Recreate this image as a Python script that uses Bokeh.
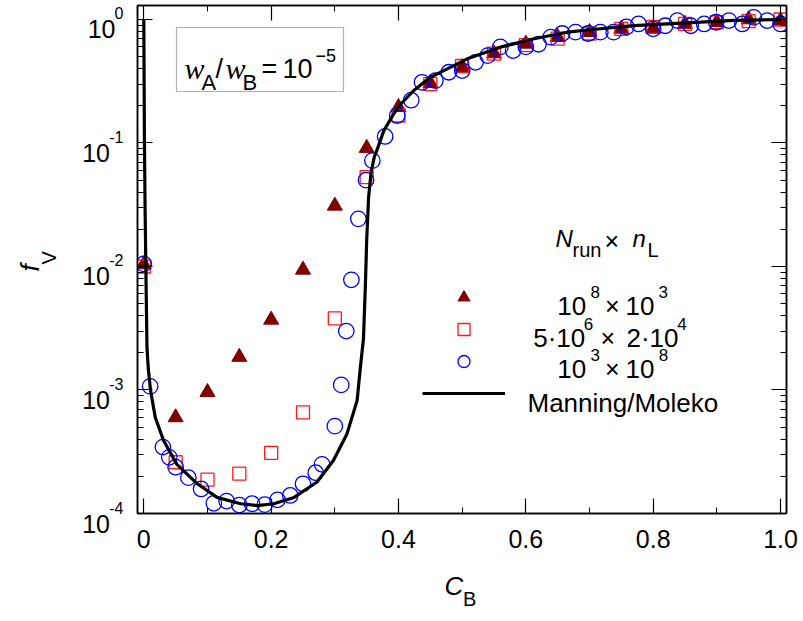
import math
from bokeh.plotting import figure
from bokeh.layouts import row, column
from bokeh.models import (LinearAxis, LogAxis, FixedTicker, Label, BoxAnnotation,
                          Legend, LegendItem, Range1d, CustomJSTickFormatter)
from bokeh.core.properties import value
from bokeh.embed import file_html
from bokeh.resources import INLINE

# ---------------- data ----------------
cb_tri = [0.0, 0.05, 0.10, 0.15, 0.20, 0.25, 0.30, 0.35, 0.40, 0.45, 0.50,
          0.55, 0.60, 0.65, 0.70, 0.75, 0.80, 0.85, 0.90, 0.95, 1.00]
fv_tri = [0.0104, 6.0e-4, 9.6e-4, 1.85e-3, 3.7e-3, 9.4e-3, 0.031, 0.091, 0.195, 0.305, 0.41,
          0.53, 0.635, 0.72, 0.79, 0.84, 0.84, 0.92, 0.95, 1.0, 0.98]

cb_sq = [0.0, 0.05, 0.10, 0.15, 0.20, 0.25, 0.30, 0.35, 0.40, 0.45, 0.50,
         0.55, 0.60, 0.65, 0.70, 0.75, 0.80, 0.85, 0.90, 0.95, 1.00]
fv_sq = [0.0100, 2.6e-4, 1.88e-4, 2.1e-4, 3.1e-4, 6.6e-4, 3.8e-3, 0.053, 0.167, 0.30, 0.42,
         0.53, 0.62, 0.70, 0.77, 0.84, 0.87, 0.92, 0.95, 0.97, 1.0]

cb_circ = [0.0, 0.01, 0.03, 0.04, 0.05, 0.07, 0.09, 0.11, 0.13, 0.15, 0.17, 0.19,
           0.21, 0.23, 0.25, 0.27, 0.28, 0.30, 0.31, 0.318, 0.326, 0.337, 0.349,
           0.359, 0.379, 0.398, 0.42, 0.437, 0.458, 0.479, 0.50, 0.521, 0.54,
           0.56, 0.58, 0.60, 0.62, 0.639, 0.657, 0.678, 0.698, 0.717, 0.738,
           0.758, 0.777, 0.80, 0.819, 0.838, 0.859, 0.88, 0.899, 0.919, 0.94,
           0.958, 0.979, 1.0]
fv_circ = [0.0105, 1.07e-3, 3.45e-4, 2.85e-4, 2.37e-4, 1.95e-4, 1.58e-4, 1.21e-4,
           1.26e-4, 1.17e-4, 1.2e-4, 1.18e-4, 1.29e-4, 1.4e-4, 1.74e-4, 2.14e-4,
           2.5e-4, 5.1e-4, 1.1e-3, 3.0e-3, 7.8e-3, 0.0243, 0.050, 0.072, 0.113,
           0.167, 0.222, 0.31, 0.32, 0.374, 0.386, 0.45, 0.51, 0.60, 0.56, 0.60,
           0.63, 0.72, 0.77, 0.79, 0.77, 0.79, 0.79, 0.87, 0.92, 0.84, 0.89, 0.98,
           0.89, 0.92, 0.95, 0.98, 0.92, 1.04, 0.98, 0.92]

cb_theory = [0.0, 0.001, 0.002, 0.003, 0.004, 0.005, 0.007, 0.0105, 0.018, 0.031,
             0.052, 0.084, 0.115, 0.152, 0.178, 0.204, 0.236, 0.272, 0.298, 0.319,
             0.335, 0.340, 0.345, 0.348, 0.350, 0.353, 0.357, 0.362, 0.367, 0.377,
             0.393, 0.403, 0.424, 0.45, 0.508, 0.56, 0.613, 0.665, 0.717, 0.77,
             0.822, 0.874, 0.927, 1.0]
fv_theory = [1.0, 0.1, 0.03, 0.012, 0.005, 0.0022, 0.0015, 1.0e-3, 6.0e-4, 3.9e-4,
             2.5e-4, 1.74e-4, 1.35e-4, 1.2e-4, 1.16e-4, 1.2e-4, 1.35e-4, 1.8e-4,
             2.7e-4, 4.4e-4, 8.2e-4, 1.5e-3, 2.6e-3, 7e-3, 0.016, 0.036, 0.058,
             0.077, 0.09, 0.126, 0.174, 0.205, 0.266, 0.34, 0.48, 0.597, 0.698,
             0.789, 0.841, 0.893, 0.923, 0.951, 0.982, 1.0]

x_ticks = [0.0, 0.2, 0.4, 0.6, 0.8, 1.0]
x_tick_labels = ["0", "0.2", "0.4", "0.6", "0.8", "1.0"]
x_minor = [0.1, 0.3, 0.5, 0.7, 0.9]
y_exps = [-4, -3, -2, -1, 0]
y_exp_labels = ["-4", "-3", "-2", "-1", "0"]

series_names = [("10", "8", "10", "3"), ("5·10", "6", "2·10", "4"), ("10", "3", "10", "8")]
theory_name = "Manning/Moleko"

# ---------------- geometry ----------------
W, H = 803, 621
FL, FT, FR, FB = 137, 5, 786, 513       # frame edges on the page
LEFT_W = 135                            # width of the left label strip
BOT_H = 61                              # height of the bottom title strip
FONT = "Liberation Sans"

p = figure(width=W - LEFT_W, height=H - BOT_H, y_axis_type="log",
           x_range=Range1d(-0.0099, 1.0094), y_range=Range1d(1e-4, 1.298),
           output_backend="svg", toolbar_location=None,
           min_border_left=FL - LEFT_W, min_border_right=W - FR,
           min_border_top=FT, min_border_bottom=H - BOT_H - FB)
p.grid.visible = False
p.outline_line_color = "black"
p.outline_line_width = 1.5
p.background_fill_color = "white"
p.border_fill_color = "white"

y_ticks = [10.0 ** e for e in y_exps]
y_minor = [m * 10.0 ** e for e in y_exps[:-1] for m in range(2, 10)]
xt = FixedTicker(ticks=x_ticks, minor_ticks=x_minor)
yt = FixedTicker(ticks=y_ticks, minor_ticks=y_minor)
blank = CustomJSTickFormatter(code="return ''")


def style_axis(ax, labels=False):
    ax.axis_line_color = "black"
    ax.axis_line_width = 1.5
    ax.major_tick_in = 15
    ax.major_tick_out = 0
    ax.minor_tick_in = 6
    ax.minor_tick_out = 0
    ax.major_tick_line_color = "black"
    ax.major_tick_line_width = 1.2
    ax.minor_tick_line_color = "black"
    ax.minor_tick_line_width = 1.0
    if not labels:
        ax.formatter = blank
        ax.major_label_text_font_size = "0px"
        ax.major_label_standoff = 0


xa = p.xaxis[0]
xa.ticker = xt
style_axis(xa, labels=True)
xa.major_label_overrides = {t: s for t, s in zip(x_ticks, x_tick_labels)}
xa.major_label_text_font = FONT
xa.major_label_text_font_size = "25px"
xa.major_label_text_color = "black"
xa.major_label_standoff = 16

ya = p.yaxis[0]
ya.ticker = yt
style_axis(ya)

top = LinearAxis(ticker=xt)
style_axis(top)
p.add_layout(top, "above")
right = LogAxis(ticker=yt)
style_axis(right)
p.add_layout(right, "right")

# ---------------- data glyphs ----------------
r_tri = p.scatter(cb_tri, fv_tri, marker="triangle", size=15,
                  fill_color="#800000", line_color="#800000")
r_sq = p.scatter(cb_sq, fv_sq, marker="square", size=13, fill_color=None,
                 line_color="#ff1a1a", line_width=1.3)
r_c = p.scatter(cb_circ, fv_circ, marker="circle", size=15.5, fill_color=None,
                line_color="#0000ff", line_width=1.3)
r_l = p.line(cb_theory, fv_theory, line_color="black", line_width=3.2)

legend = Legend(items=[LegendItem(label=" ", renderers=[r_tri]),
                       LegendItem(label=" ", renderers=[r_sq]),
                       LegendItem(label=" ", renderers=[r_c]),
                       LegendItem(label=" ", renderers=[r_l])],
                location=(422 - FL, FB - 408))
legend.glyph_width = 83
legend.glyph_height = 30
legend.label_height = 30
legend.label_width = 0
legend.label_standoff = 0
legend.spacing = 2
legend.padding = 0
legend.margin = 0
legend.border_line_alpha = 0
legend.background_fill_alpha = 0
legend.label_text_font_size = "1px"
p.add_layout(legend)


# ---------------- texts inside the frame ----------------
def T(px, py, text, size, italic=False, align="left", baseline="alphabetic",
      font=FONT):
    p.add_layout(Label(x=px - FL, y=FB - py, x_units="screen", y_units="screen",
                       text=text, text_font=font, text_font_size=f"{size}px",
                       text_font_style="italic" if italic else "normal",
                       text_align=align, text_baseline=baseline,
                       text_color="black"))


p.add_layout(BoxAnnotation(left=176 - FL, right=343 - FL, top=FB - 27, bottom=FB - 91,
                           left_units="screen", right_units="screen",
                           top_units="screen", bottom_units="screen",
                           fill_alpha=0, line_color="black", line_width=1.2))
T(184, 68, "w", 30, italic=True, font="Liberation Serif")
T(201, 82, "A", 22)
T(215, 68, "/", 27)
T(225, 68, "w", 30, italic=True, font="Liberation Serif")
T(242, 82, "B", 22)
T(261, 68, "=", 27)
T(282, 68, "10", 27)
T(315, 55, "\u22125", 18)

T(555, 238, "N", 24, italic=True)
T(572, 249, "run", 20)
T(604, 240, "\u00d7", 25)
T(632, 238, "n", 24, italic=True)
T(647, 249, "L", 20)

rows = [(305, 556.7, 590, 604.5, 625, 658), (337, 532.7, 583.3, 600, 626, 676.7),
        (368, 556.7, 590, 604.5, 625, 658.3)]
for (b, x1, x2, x3, x4, x5), (m1, s1, m2, s2) in zip(rows, series_names):
    T(x1, b, m1, 26)
    T(x2, b - 14, s1, 17)
    T(x3, b, "\u00d7", 25)
    T(x4, b, m2, 26)
    T(x5, b - 14, s2, 17)
T(527, 402, theory_name, 26)

# ---------------- left strip: y tick labels and y title ----------------
lf = figure(width=LEFT_W, height=H, x_range=Range1d(0, LEFT_W), y_range=Range1d(H, 0),
            output_backend="svg", toolbar_location=None, min_border=0,
            x_axis_location=None, y_axis_location=None)
lf.grid.visible = False
lf.outline_line_color = None
lf.background_fill_color = "white"
lf.border_fill_color = "white"

ly0, ly1 = math.log10(p.y_range.start), math.log10(p.y_range.end)
tick_py = [FT + (ly1 - e) / (ly1 - ly0) * (FB - FT) for e in y_exps]
sup_w = [14.0 if s.startswith("-") else 8.5 for s in y_exp_labels]
label_right = 123
lf.text(x=[label_right] * len(tick_py), y=[t - 6 for t in tick_py], text=y_exp_labels,
        text_font=value(FONT), text_font_size="16px", text_align="right",
        text_baseline="alphabetic", text_color="black")
lf.text(x=[label_right - w + 0.5 for w in sup_w], y=[t + 10 for t in tick_py],
        text=["10"] * len(tick_py), text_font=value(FONT), text_font_size="25px",
        text_align="right", text_baseline="alphabetic", text_color="black")
lf.text(x=[29], y=[271], text=["f"], angle=math.pi / 2, text_font=value(FONT),
        text_font_size="26px", text_font_style="italic", text_align="left",
        text_baseline="alphabetic", text_color="black")
lf.text(x=[48], y=[264], text=["V"], angle=math.pi / 2, text_font=value(FONT),
        text_font_size="20px", text_align="left", text_baseline="alphabetic",
        text_color="black")

# ---------------- bottom strip: x title ----------------
bf = figure(width=W - LEFT_W, height=BOT_H, x_range=Range1d(LEFT_W, W),
            y_range=Range1d(H, H - BOT_H), output_backend="svg",
            toolbar_location=None, min_border=0,
            x_axis_location=None, y_axis_location=None)
bf.grid.visible = False
bf.outline_line_color = None
bf.background_fill_color = "white"
bf.border_fill_color = "white"
bf.text(x=[451], y=[585], text=["C"], text_font=value(FONT), text_font_size="26px",
        text_font_style="italic", text_align="left", text_baseline="alphabetic",
        text_color="black")
bf.text(x=[470], y=[598], text=["B"], text_font=value(FONT), text_font_size="20px",
        text_align="left", text_baseline="alphabetic", text_color="black")

layout = row(lf, column(p, bf, spacing=0), spacing=0)
open("out.html", "w").write(file_html(layout, INLINE))
